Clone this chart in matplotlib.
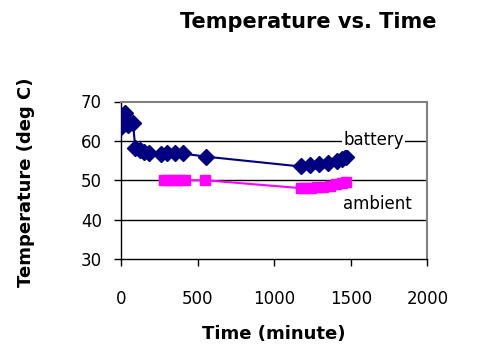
import matplotlib
matplotlib.use("Agg")
import matplotlib.pyplot as plt

plt.rcParams['font.family'] = ['DejaVu Sans']

# battery temperature readings
battery_time = [0, 10, 20, 30, 45, 75, 90, 120, 150, 180, 260, 300, 350, 400, 550,
                1170, 1230, 1290, 1350, 1410, 1440, 1470]
battery_temp = [63.5, 66.0, 67.0, 65.0, 64.0, 64.5, 58.3, 57.8, 57.2, 56.8, 56.6,
                56.8, 56.9, 56.8, 56.0, 53.5, 53.9, 54.2, 54.5, 55.0, 55.3, 55.8]

# ambient temperature readings
ambient_time = [275, 310, 345, 380, 412, 549, 1170, 1200, 1240, 1280, 1320, 1360,
                1400, 1440, 1470]
ambient_temp = [50.0, 50.0, 50.0, 50.0, 50.0, 50.0, 48.0, 48.0, 48.1, 48.2, 48.4,
                48.6, 49.0, 49.4, 49.6]

x_ticks = [0, 500, 1000, 1500, 2000]
y_ticks = [30, 40, 50, 60, 70]

W, H = 485, 362
fig = plt.figure(figsize=(W / 100, H / 100), dpi=100)
ax = fig.add_axes([121.5 / W, 1 - 259 / H, 306 / W, 157.5 / H])

# horizontal gridlines inside the plot area
for y in [40, 50, 60]:
    ax.axhline(y, color='black', lw=1, zorder=1)

ax.plot(battery_time, battery_temp, color='#000080', lw=1.5, marker='D',
        markersize=8.5, zorder=3)
ax.plot(ambient_time, ambient_temp, color='#FF00FF', lw=1.5, marker='s',
        markersize=7.5, zorder=3)

ax.text(1450, 60.2, 'battery', fontsize=12, va='center', ha='left', zorder=4,
        bbox=dict(facecolor='white', edgecolor='none', pad=1))
ax.text(1450, 44.0, 'ambient', fontsize=12, va='center', ha='left', zorder=4,
        bbox=dict(facecolor='white', edgecolor='none', pad=1))

ax.set_xlim(0, 2000)
ax.set_ylim(30, 70)
ax.set_xticks(x_ticks)
ax.set_yticks(y_ticks)
ax.tick_params(axis='both', direction='out', length=5, width=1, labelsize=12)
ax.tick_params(axis='x', pad=17)
ax.tick_params(axis='y', pad=9)

for side in ['top', 'right']:
    ax.spines[side].set_color('#808080')
    ax.spines[side].set_linewidth(1.5)
for side in ['left', 'bottom']:
    ax.spines[side].set_color('black')
    ax.spines[side].set_linewidth(1)

fig.text(308 / W, 1 - 22 / H, 'Temperature vs. Time', fontsize=15,
         fontweight='bold', ha='center', va='center')
fig.text(274 / W, 1 - 334 / H, 'Time (minute)', fontsize=13,
         fontweight='bold', ha='center', va='center')
fig.text(26 / W, 1 - 182 / H, 'Temperature (deg C)', fontsize=13,
         fontweight='bold', ha='center', va='center', rotation=90)

fig.savefig('out.png', dpi=100)
